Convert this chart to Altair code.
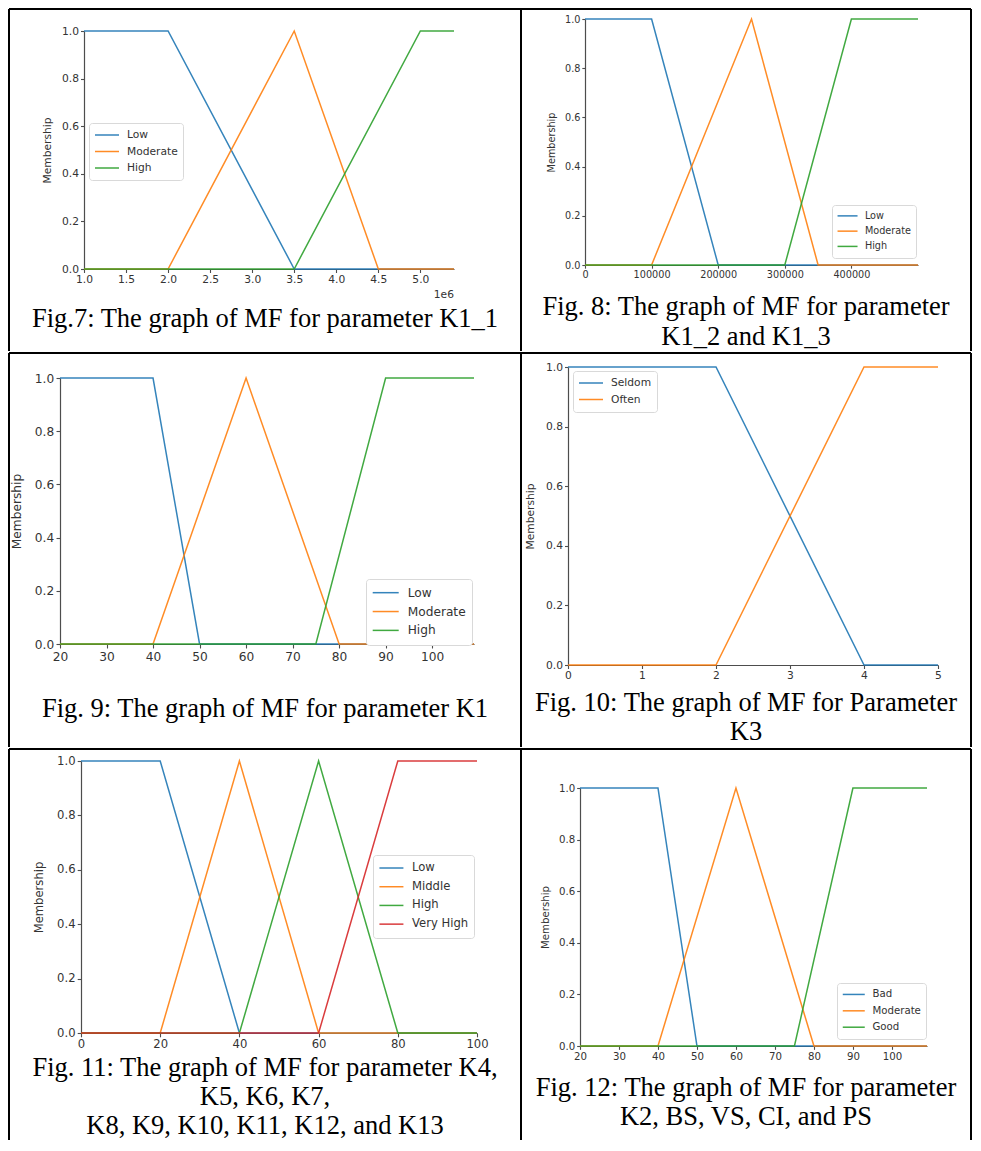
import altair as alt
import pandas as pd

COLORS = ["#1f77b4", "#ff7f0e", "#2ca02c", "#d62728"]
membership_ticks = [0.0, 0.2, 0.4, 0.6, 0.8, 1.0]

# ---- Fig. 7 : K1_1 ----
f7_names = ["Low", "Moderate", "High"]
f7_x = [[1.0e6, 2.0e6, 3.5e6, 5.4e6],
        [1.0e6, 2.0e6, 3.5e6, 4.5e6, 5.4e6],
        [1.0e6, 3.5e6, 5.0e6, 5.4e6]]
f7_y = [[1, 1, 0, 0],
        [0, 0, 1, 0, 0],
        [0, 0, 1, 1]]
f7_domain = [1.0e6, 5.4e6]
f7_xticks = [1.0e6, 1.5e6, 2.0e6, 2.5e6, 3.0e6, 3.5e6, 4.0e6, 4.5e6, 5.0e6]
f7_caption = ["Fig.7: The graph of MF for parameter K1_1"]

# ---- Fig. 8 : K1_2 and K1_3 ----
f8_names = ["Low", "Moderate", "High"]
f8_x = [[0, 100000, 200000, 500000],
        [0, 100000, 250000, 350000, 500000],
        [0, 300000, 400000, 500000]]
f8_y = [[1, 1, 0, 0],
        [0, 0, 1, 0, 0],
        [0, 0, 1, 1]]
f8_domain = [0, 500000]
f8_xticks = [0, 100000, 200000, 300000, 400000]
f8_caption = ["Fig. 8: The graph of MF for parameter", "K1_2 and K1_3"]

# ---- Fig. 9 : K1 ----
f9_names = ["Low", "Moderate", "High"]
f9_x = [[20, 40, 50, 109],
        [20, 40, 60, 80, 109],
        [20, 75, 90, 109]]
f9_y = [[1, 1, 0, 0],
        [0, 0, 1, 0, 0],
        [0, 0, 1, 1]]
f9_domain = [20, 109]
f9_xticks = [20, 30, 40, 50, 60, 70, 80, 90, 100]
f9_caption = ["Fig. 9: The graph of MF for parameter K1"]

# ---- Fig. 10 : K3 ----
f10_names = ["Seldom", "Often"]
f10_x = [[0, 2, 4, 5],
         [0, 2, 4, 5]]
f10_y = [[1, 1, 0, 0],
         [0, 0, 1, 1]]
f10_domain = [0, 5]
f10_xticks = [0, 1, 2, 3, 4, 5]
f10_caption = ["Fig. 10: The graph of MF for Parameter", "K3"]

# ---- Fig. 11 : K4 ... K13 ----
f11_names = ["Low", "Middle", "High", "Very High"]
f11_x = [[0, 20, 40, 100],
         [0, 20, 40, 60, 100],
         [0, 40, 60, 80, 100],
         [0, 60, 80, 100]]
f11_y = [[1, 1, 0, 0],
         [0, 0, 1, 0, 0],
         [0, 0, 1, 0, 0],
         [0, 0, 1, 1]]
f11_domain = [0, 100]
f11_xticks = [0, 20, 40, 60, 80, 100]
f11_caption = ["Fig. 11: The graph of MF for parameter K4,",
               "K5, K6, K7,",
               "K8, K9, K10, K11, K12, and K13"]

# ---- Fig. 12 : K2, BS, VS, CI, PS ----
f12_names = ["Bad", "Moderate", "Good"]
f12_x = [[20, 40, 50, 109],
         [20, 40, 60, 80, 109],
         [20, 75, 90, 109]]
f12_y = [[1, 1, 0, 0],
         [0, 0, 1, 0, 0],
         [0, 0, 1, 1]]
f12_domain = [20, 109]
f12_xticks = [20, 30, 40, 50, 60, 70, 80, 90, 100]
f12_caption = ["Fig. 12: The graph of MF for parameter", "K2, BS, VS, CI, and PS"]


def build_cell(names, xs, ys, xdomain, xticks, caption, L,
               label_expr=None, offset_text=None, right_edge=False):
    recs = []
    for n, xx, yy in zip(names, xs, ys):
        for i, (a, b) in enumerate(zip(xx, yy)):
            recs.append({"series": n, "x": a, "y": b, "i": i})
    df = pd.DataFrame(recs)
    one = pd.DataFrame({"k": [0]})
    W, H, fs = L["W"], L["H"], L["fs"]
    s = fs / 10.7
    x0, x1 = L["xr"]
    y0, y1 = L["yr"]
    common = dict(domainColor="#4d4d4d", domainWidth=1.2, tickColor="#4d4d4d",
                  tickWidth=1.1, tickSize=3.5 * s, labelPadding=2 * s,
                  labelFont="DejaVu Sans", labelFontSize=fs, labelColor="#333333",
                  grid=False, labelFlush=False, labelOverlap=False)
    xkw = dict(values=xticks, title=None, offset=-(H - y0), **common)
    if label_expr:
        xkw["labelExpr"] = label_expr
    else:
        xkw["format"] = "d"
    yaxis = alt.Axis(values=membership_ticks, format=".1f", title="Membership",
                     offset=-x0, titleFont="DejaVu Sans", titleFontSize=fs,
                     titleFontWeight="normal", titleColor="#333333",
                     titlePadding=L["tp"], **common)
    lx, ly = L["leg"]
    legend = alt.Legend(title=None, orient="none", legendX=lx, legendY=ly,
                        symbolType="stroke", symbolSize=L["sym"] ** 2,
                        symbolStrokeWidth=1.5, labelFont="DejaVu Sans",
                        labelFontSize=fs, labelColor="#333333",
                        strokeColor="#d9d9d9", fillColor="white", cornerRadius=3,
                        padding=5 * s, rowPadding=2.5 * s, clipHeight=14 * s,
                        labelOffset=7 * s)
    lines = alt.Chart(df).mark_line(strokeWidth=1.5, opacity=0.9).encode(
        x=alt.X("x:Q", scale=alt.Scale(domain=xdomain, range=[x0, x1], nice=False, zero=False),
                axis=alt.Axis(**xkw)),
        y=alt.Y("y:Q", scale=alt.Scale(domain=[0, 1], range=[y0, y1], nice=False, zero=False),
                axis=yaxis),
        color=alt.Color("series:N", scale=alt.Scale(domain=names, range=COLORS[:len(names)]),
                        legend=legend),
        order="i:Q",
    )
    cap = alt.Chart(one).mark_text(font="Liberation Serif", fontSize=26.5, color="black",
                                   align="center", baseline="middle",
                                   lineHeight=L["lh"]).encode(
        x=alt.value(W / 2), y=alt.value(L["cap_y"]), text=alt.value(caption))
    top = alt.Chart(one).mark_rule(color="black", strokeWidth=2).encode(
        x=alt.value(0), x2=alt.value(W), y=alt.value(0))
    left = alt.Chart(one).mark_rule(color="black", strokeWidth=2).encode(
        x=alt.value(0), y=alt.value(0), y2=alt.value(H))
    layers = [lines, cap, top, left]
    if right_edge:
        layers.append(alt.Chart(one).mark_rule(color="black", strokeWidth=2).encode(
            x=alt.value(W), y=alt.value(0), y2=alt.value(H)))
    if offset_text:
        tx, ty, t = offset_text
        layers.append(alt.Chart(one).mark_text(font="DejaVu Sans", fontSize=fs,
                                               color="#333333", align="right",
                                               baseline="middle").encode(
            x=alt.value(tx), y=alt.value(ty), text=alt.value(t)))
    return alt.layer(*layers).properties(width=W, height=H)


L7 = dict(W=512, H=342, xr=[75, 445], yr=[260, 22], fs=10.7, leg=(80, 114), sym=24,
          cap_y=310, lh=30, tp=9)
L8 = dict(W=450, H=342, xr=[64, 397], yr=[256, 10], fs=9.7, leg=(311, 196), sym=20,
          cap_y=298, lh=30, tp=8)
L9 = dict(W=512, H=394, xr=[51, 465], yr=[291, 25], fs=12.2, leg=(357, 226), sym=26,
          cap_y=356, lh=30, tp=10.5)
L10 = dict(W=450, H=394, xr=[47, 417], yr=[312, 14], fs=10.7, leg=(52, 18), sym=24,
           cap_y=350, lh=29, tp=10)
L11 = dict(W=512, H=391, xr=[72, 468], yr=[284, 12], fs=11.6, leg=(364, 106), sym=24,
           cap_y=319, lh=29, tp=12)
L12 = dict(W=450, H=391, xr=[59, 406], yr=[297, 39], fs=10.2, leg=(316, 234), sym=22,
           cap_y=339, lh=29, tp=8)

c7 = build_cell(f7_names, f7_x, f7_y, f7_domain, f7_xticks, f7_caption, L7,
                label_expr="format(datum.value / 1000000, '.1f')",
                offset_text=(445, 286, "1e6"))
c8 = build_cell(f8_names, f8_x, f8_y, f8_domain, f8_xticks, f8_caption, L8, right_edge=True)
c9 = build_cell(f9_names, f9_x, f9_y, f9_domain, f9_xticks, f9_caption, L9)
c10 = build_cell(f10_names, f10_x, f10_y, f10_domain, f10_xticks, f10_caption, L10,
                 right_edge=True)
c11 = build_cell(f11_names, f11_x, f11_y, f11_domain, f11_xticks, f11_caption, L11)
c12 = build_cell(f12_names, f12_x, f12_y, f12_domain, f12_xticks, f12_caption, L12,
                 right_edge=True)


def row(a, b):
    return alt.hconcat(a, b, spacing=0, bounds="flush").resolve_scale(
        x="independent", y="independent", color="independent")


chart = alt.vconcat(row(c7, c8), row(c9, c10), row(c11, c12),
                    spacing=0).resolve_scale(
    x="independent", y="independent", color="independent"
).properties(padding=0).configure_view(strokeWidth=0)

chart.save("out.html", embed_options={"renderer": "svg", "actions": False})
